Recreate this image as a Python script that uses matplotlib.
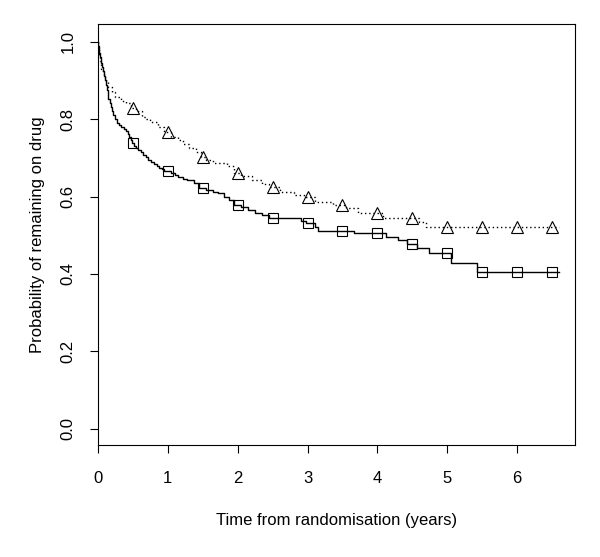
import numpy as np
import matplotlib
matplotlib.use('Agg')
import matplotlib.pyplot as plt

plt.rcParams['font.family'] = ['Liberation Sans', 'DejaVu Sans']

# Kaplan-Meier estimates (step times in years)
# solid line, square markers
time_sq = [0, 0.005, 0.01, 0.02, 0.03, 0.04, 0.05, 0.06, 0.07, 0.085, 0.10,
           0.115, 0.13, 0.14, 0.15, 0.165, 0.18, 0.20, 0.22, 0.245, 0.27,
           0.30, 0.33, 0.37, 0.40, 0.43, 0.45, 0.47, 0.48, 0.52, 0.55, 0.57,
           0.61, 0.65, 0.69, 0.72, 0.76, 0.80, 0.84, 0.88, 0.92, 0.95, 1.05,
           1.10, 1.15, 1.22, 1.28, 1.38, 1.45, 1.55, 1.65, 1.72, 1.80, 1.88,
           1.95, 2.05, 2.15, 2.25, 2.35, 2.45, 2.90, 2.98, 3.10, 3.15, 3.66,
           4.13, 4.29, 4.43, 4.57, 4.74, 5.05, 5.43, 6.60]
surv_sq = [1.0, 0.99, 0.98, 0.97, 0.96, 0.952, 0.944, 0.934, 0.924, 0.912,
           0.90, 0.888, 0.876, 0.864, 0.852, 0.842, 0.832, 0.82, 0.81, 0.80,
           0.79, 0.785, 0.78, 0.775, 0.77, 0.762, 0.755, 0.745, 0.738, 0.73,
           0.725, 0.72, 0.714, 0.708, 0.701, 0.695, 0.69, 0.685, 0.68, 0.675,
           0.67, 0.666, 0.66, 0.656, 0.651, 0.646, 0.642, 0.636, 0.621,
           0.618, 0.612, 0.608, 0.60, 0.59, 0.577, 0.572, 0.565, 0.558, 0.552,
           0.545, 0.537, 0.532, 0.522, 0.512, 0.506, 0.496, 0.488, 0.478,
           0.468, 0.455, 0.429, 0.406, 0.406]

# dotted line, triangle markers
time_tri = [0, 0.005, 0.01, 0.02, 0.03, 0.04, 0.05, 0.065, 0.08, 0.10, 0.12,
            0.15, 0.20, 0.25, 0.33, 0.40, 0.47, 0.55, 0.63, 0.69, 0.75, 0.86,
            0.95, 1.05, 1.15, 1.22, 1.30, 1.40, 1.48, 1.55, 1.65, 1.85, 1.95,
            2.05, 2.20, 2.35, 2.45, 2.60, 2.80, 2.95, 3.10, 3.37, 3.55, 3.72,
            4.08, 4.60, 4.70, 6.60]
surv_tri = [1.0, 0.985, 0.972, 0.96, 0.95, 0.94, 0.93, 0.92, 0.91, 0.90,
            0.895, 0.884, 0.87, 0.858, 0.848, 0.843, 0.830, 0.82, 0.805, 0.80,
            0.792, 0.78, 0.766, 0.755, 0.745, 0.735, 0.725, 0.715, 0.701,
            0.695, 0.688, 0.678, 0.660, 0.652, 0.643, 0.632, 0.624, 0.612,
            0.603, 0.600, 0.587, 0.578, 0.571, 0.558, 0.545, 0.535, 0.522,
            0.522]

mark_times = [0.5, 1, 1.5, 2, 2.5, 3, 3.5, 4, 4.5, 5, 5.5, 6, 6.5]


def step_at(times, surv, t):
    idx = np.searchsorted(times, t, side='right') - 1
    return np.array(surv)[idx]


fig = plt.figure(figsize=(6.0, 5.57), dpi=100)
ax = fig.add_axes([98 / 600, (557 - 445) / 557, 477 / 600, 421 / 557])

ax.plot(time_sq, surv_sq, drawstyle='steps-post', color='black', lw=1.0)
ax.plot(time_tri, surv_tri, drawstyle='steps-post', color='black', lw=1.0,
        linestyle=(0, (1.0, 2.0)))
ax.plot(mark_times, step_at(time_sq, surv_sq, mark_times), ls='none',
        marker='s', ms=6.5, mfc='none', mec='black', mew=0.8)
ax.plot(mark_times, step_at(time_tri, surv_tri, mark_times), ls='none',
        marker='^', ms=9, mfc='none', mec='black', mew=0.8)

ax.set_xlim(0, 6.83)
ax.set_ylim(-0.042, 1.046)
ax.set_xticks(range(7))
ax.set_yticks([0.0, 0.2, 0.4, 0.6, 0.8, 1.0])
ax.set_yticklabels(['0.0', '0.2', '0.4', '0.6', '0.8', '1.0'], rotation=90,
                   va='center')
ax.tick_params(direction='out', length=6, width=0.8, labelsize=12, pad=10)
ax.tick_params(axis='x', pad=13)
for s in ax.spines.values():
    s.set_linewidth(0.8)

ax.set_xlabel('Time from randomisation (years)', fontsize=12, labelpad=19)
ax.set_ylabel('Probability of remaining on drug', fontsize=12, labelpad=11)

fig.savefig('out.png', dpi=100)
